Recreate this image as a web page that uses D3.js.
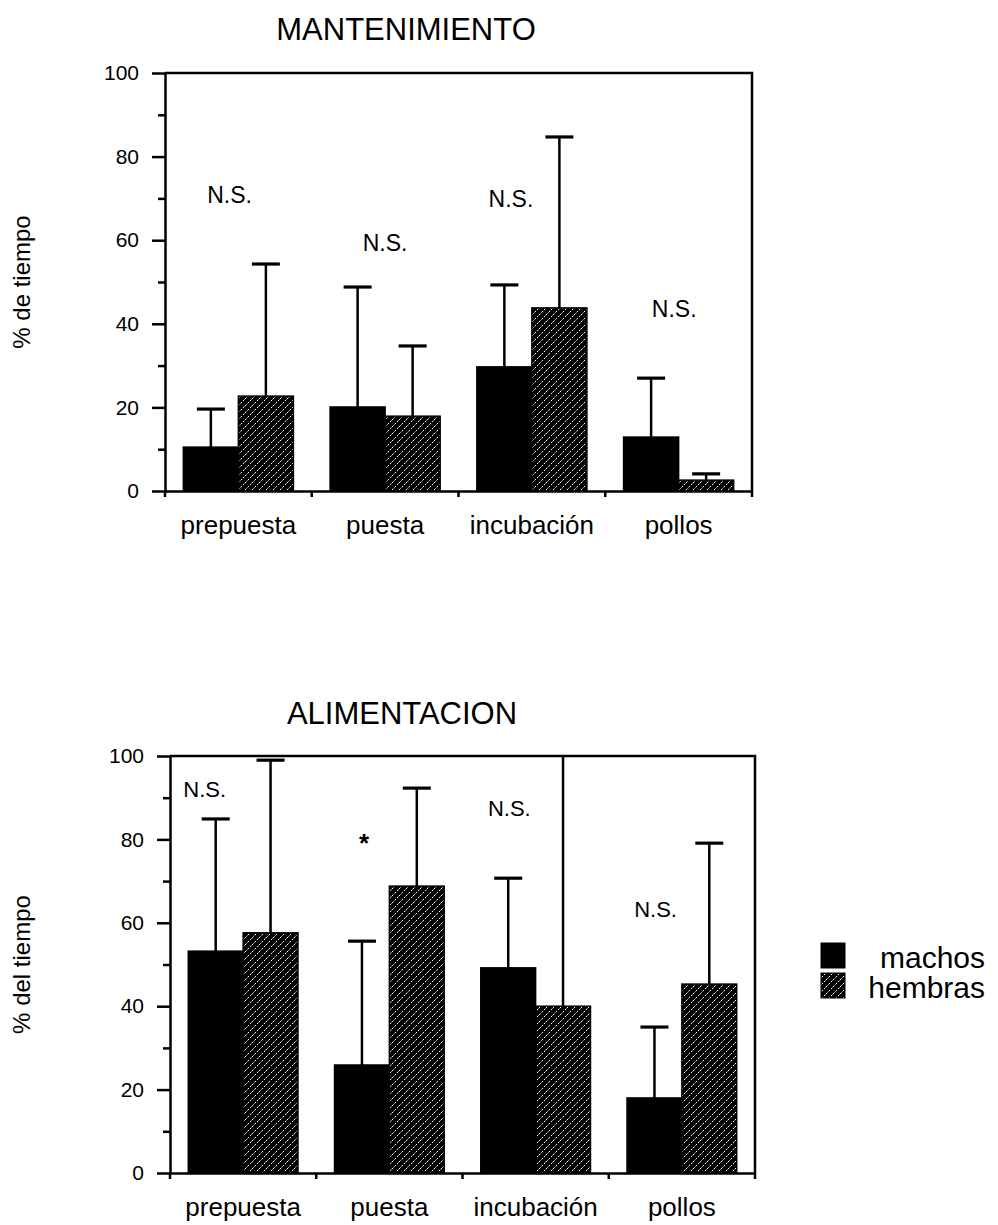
<!DOCTYPE html>
<html>
<head>
<meta charset="utf-8">
<script src="https://cdn.jsdelivr.net/npm/d3@7"></script>
<style>
  body { margin: 0; background: #fff; }
  svg { display: block; }
  text { font-family: "Liberation Sans", Arial, Helvetica, sans-serif; fill: #000; }
</style>
</head>
<body>
<svg id="chart" width="998" height="1225"></svg>
<script>
// Stages of the breeding cycle and the two sexes compared
const categories = ["prepuesta", "puesta", "incubación", "pollos"];
const seriesNames = ["machos", "hembras"];
const yTicks = [0, 20, 40, 60, 80, 100];
const yMinorTicks = [10, 30, 50, 70, 90];

// MANTENIMIENTO: mean % of time and upper end of the error bar
const mantMachos = [10.5, 20.1, 29.7, 12.9];
const mantHembras = [22.7, 17.9, 43.8, 2.6];
const mantMachosErr = [19.6, 48.8, 49.3, 27.0];
const mantHembrasErr = [54.3, 34.7, 84.7, 4.1];
// significance labels: text, height (in % units), offset within the group
const mantSig = ["N.S.", "N.S.", "N.S.", "N.S."];
const mantSigY = [69, 57.4, 68, 41.6];
const mantSigDx = [-0.08, 0, -0.19, -0.04];

// ALIMENTACION: mean % of time and upper end of the error bar
const alimMachos = [53.2, 25.9, 49.2, 18.0];
const alimHembras = [57.6, 68.8, 40.0, 45.3];
const alimMachosErr = [84.9, 55.6, 70.7, 35.0];
const alimHembrasErr = [99, 92.3, 108, 79.1]; // incubación runs off the scale
const alimSig = ["N.S.", "*", "N.S.", "N.S."];
const alimSigY = [90.2, 77, 85.6, 61.4];
const alimSigDx = [-0.35, -0.23, -0.24, -0.24];

const svg = d3.select("#chart");
const defs = svg.append("defs");

// diagonal hatch used for the females
const hatch = defs.append("pattern")
  .attr("id", "hatch")
  .attr("patternUnits", "userSpaceOnUse")
  .attr("width", 7).attr("height", 7);
hatch.append("rect").attr("width", 7).attr("height", 7).attr("fill", "#000");
hatch.append("path")
  .attr("d", "M-1,1 L1,-1 M0,7 L7,0 M6,8 L8,6")
  .attr("stroke", "#fff")
  .attr("stroke-width", 1)
  .attr("stroke-dasharray", "2.2,1.3");

const fills = { machos: "#000", hembras: "url(#hatch)" };

const panels = [
  {
    id: "mant", title: "MANTENIMIENTO", titleX: 406, titleY: 40,
    yLabel: "% de tiempo", yLabelX: 30,
    left: 165, right: 752, top: 73, bottom: 491,
    machos: mantMachos, hembras: mantHembras,
    machosErr: mantMachosErr, hembrasErr: mantHembrasErr,
    sig: mantSig, sigY: mantSigY, sigDx: mantSigDx, sigSize: 23
  },
  {
    id: "alim", title: "ALIMENTACION", titleX: 402, titleY: 724,
    yLabel: "% del tiempo", yLabelX: 30,
    left: 170, right: 755, top: 756, bottom: 1173,
    machos: alimMachos, hembras: alimHembras,
    machosErr: alimMachosErr, hembrasErr: alimHembrasErr,
    sig: alimSig, sigY: alimSigY, sigDx: alimSigDx, sigSize: 22
  }
];

panels.forEach(p => {
  const g = svg.append("g");

  const x = d3.scaleBand()
    .domain(categories)
    .range([p.left, p.right])
    .paddingInner(0.25)
    .paddingOuter(0.125);
  const xs = d3.scaleBand()
    .domain(seriesNames)
    .range([0, x.bandwidth()]);
  const y = d3.scaleLinear().domain([0, 100]).range([p.bottom, p.top]);

  defs.append("clipPath").attr("id", "clip-" + p.id)
    .append("rect")
    .attr("x", p.left).attr("y", p.top)
    .attr("width", p.right - p.left).attr("height", p.bottom - p.top);

  // title
  g.append("text")
    .attr("x", p.titleX).attr("y", p.titleY)
    .attr("text-anchor", "middle")
    .attr("font-size", 31)
    .text(p.title);

  // y label
  g.append("text")
    .attr("transform", `translate(${p.yLabelX},${(p.top + p.bottom) / 2}) rotate(-90)`)
    .attr("text-anchor", "middle")
    .attr("font-size", 24)
    .text(p.yLabel);

  // one record per bar
  const bars = [];
  categories.forEach((c, i) => {
    bars.push({ cat: c, s: "machos", v: p.machos[i], e: p.machosErr[i] });
    bars.push({ cat: c, s: "hembras", v: p.hembras[i], e: p.hembrasErr[i] });
  });
  const cx = d => x(d.cat) + xs(d.s) + xs.bandwidth() / 2;

  // error bars (drawn first so the bars cover their base), clipped to the frame
  const err = g.append("g").attr("clip-path", `url(#clip-${p.id})`);
  err.selectAll("line.stem").data(bars).join("line")
    .attr("class", "stem")
    .attr("x1", cx).attr("x2", cx)
    .attr("y1", d => y(d.v))
    .attr("y2", d => y(d.e))
    .attr("stroke", "#000").attr("stroke-width", 2.5);
  err.selectAll("line.cap").data(bars.filter(d => d.e <= 100)).join("line")
    .attr("class", "cap")
    .attr("x1", d => cx(d) - 14)
    .attr("x2", d => cx(d) + 14)
    .attr("y1", d => y(d.e))
    .attr("y2", d => y(d.e))
    .attr("stroke", "#000").attr("stroke-width", 3.2);

  g.selectAll("rect.bar").data(bars).join("rect")
    .attr("class", "bar")
    .attr("x", d => x(d.cat) + xs(d.s))
    .attr("width", xs.bandwidth())
    .attr("y", d => y(d.v))
    .attr("height", d => y(0) - y(d.v))
    .attr("fill", d => fills[d.s])
    .attr("stroke", "#000").attr("stroke-width", 1.5);

  // significance labels
  g.selectAll(".sig").data(categories).join("text")
    .attr("class", "sig")
    .attr("x", (c, i) => x(c) + x.bandwidth() / 2 + p.sigDx[i] * x.bandwidth())
    .attr("y", (c, i) => y(p.sigY[i]))
    .attr("text-anchor", "middle")
    .attr("font-size", (c, i) => p.sig[i] === "*" ? 26 : p.sigSize)
    .attr("font-weight", (c, i) => p.sig[i] === "*" ? "bold" : "normal")
    .text((c, i) => p.sig[i]);

  // frame: top and right edges
  g.append("path")
    .attr("d", `M${p.left},${p.top}H${p.right}V${p.bottom}`)
    .attr("fill", "none").attr("stroke", "#000").attr("stroke-width", 2.5);

  // y axis with major and minor ticks
  const yAxis = g.append("g")
    .attr("transform", `translate(${p.left},0)`)
    .call(d3.axisLeft(y).tickValues(yTicks).tickSize(13).tickSizeOuter(0).tickPadding(13));
  yAxis.select(".domain").attr("stroke-width", 2.5);
  yAxis.selectAll(".tick line").attr("stroke-width", 2.5);
  yAxis.selectAll(".tick text").attr("font-size", 21)
    .attr("font-family", "\"Liberation Sans\", Arial, sans-serif");
  const yMinor = g.append("g")
    .attr("transform", `translate(${p.left},0)`)
    .call(d3.axisLeft(y).tickValues(yMinorTicks).tickSize(7).tickSizeOuter(0).tickFormat(""));
  yMinor.select(".domain").remove();
  yMinor.selectAll(".tick line").attr("stroke-width", 2.5);

  // x axis: baseline, ticks at group boundaries, stage labels
  const bounds = categories.map(c => x(c) - x.step() * x.paddingInner() / 2).concat([p.right]);
  const xAxis = g.append("g")
    .attr("transform", `translate(0,${p.bottom})`)
    .call(d3.axisBottom(x).tickSize(0).tickSizeOuter(0).tickPadding(25));
  xAxis.select(".domain").attr("stroke-width", 2.5);
  xAxis.selectAll(".tick text").attr("font-size", 26)
    .attr("font-family", "\"Liberation Sans\", Arial, sans-serif");
  xAxis.selectAll(".bound").data(bounds).join("line")
    .attr("class", "bound")
    .attr("x1", d => d).attr("x2", d => d)
    .attr("y1", 0).attr("y2", 6)
    .attr("stroke", "#000").attr("stroke-width", 2.5);
});

// legend
const legend = svg.append("g");
const legY = d3.scalePoint().domain(seriesNames).range([943, 973]);
legend.selectAll("rect").data(seriesNames).join("rect")
  .attr("x", 821).attr("y", d => legY(d))
  .attr("width", 24).attr("height", 25)
  .attr("fill", d => fills[d])
  .attr("stroke", "#000").attr("stroke-width", 1);
legend.selectAll("text").data(seriesNames).join("text")
  .attr("x", 985).attr("y", d => legY(d) + 25)
  .attr("text-anchor", "end")
  .attr("font-size", 30)
  .text(d => d);
</script>
</body>
</html>
